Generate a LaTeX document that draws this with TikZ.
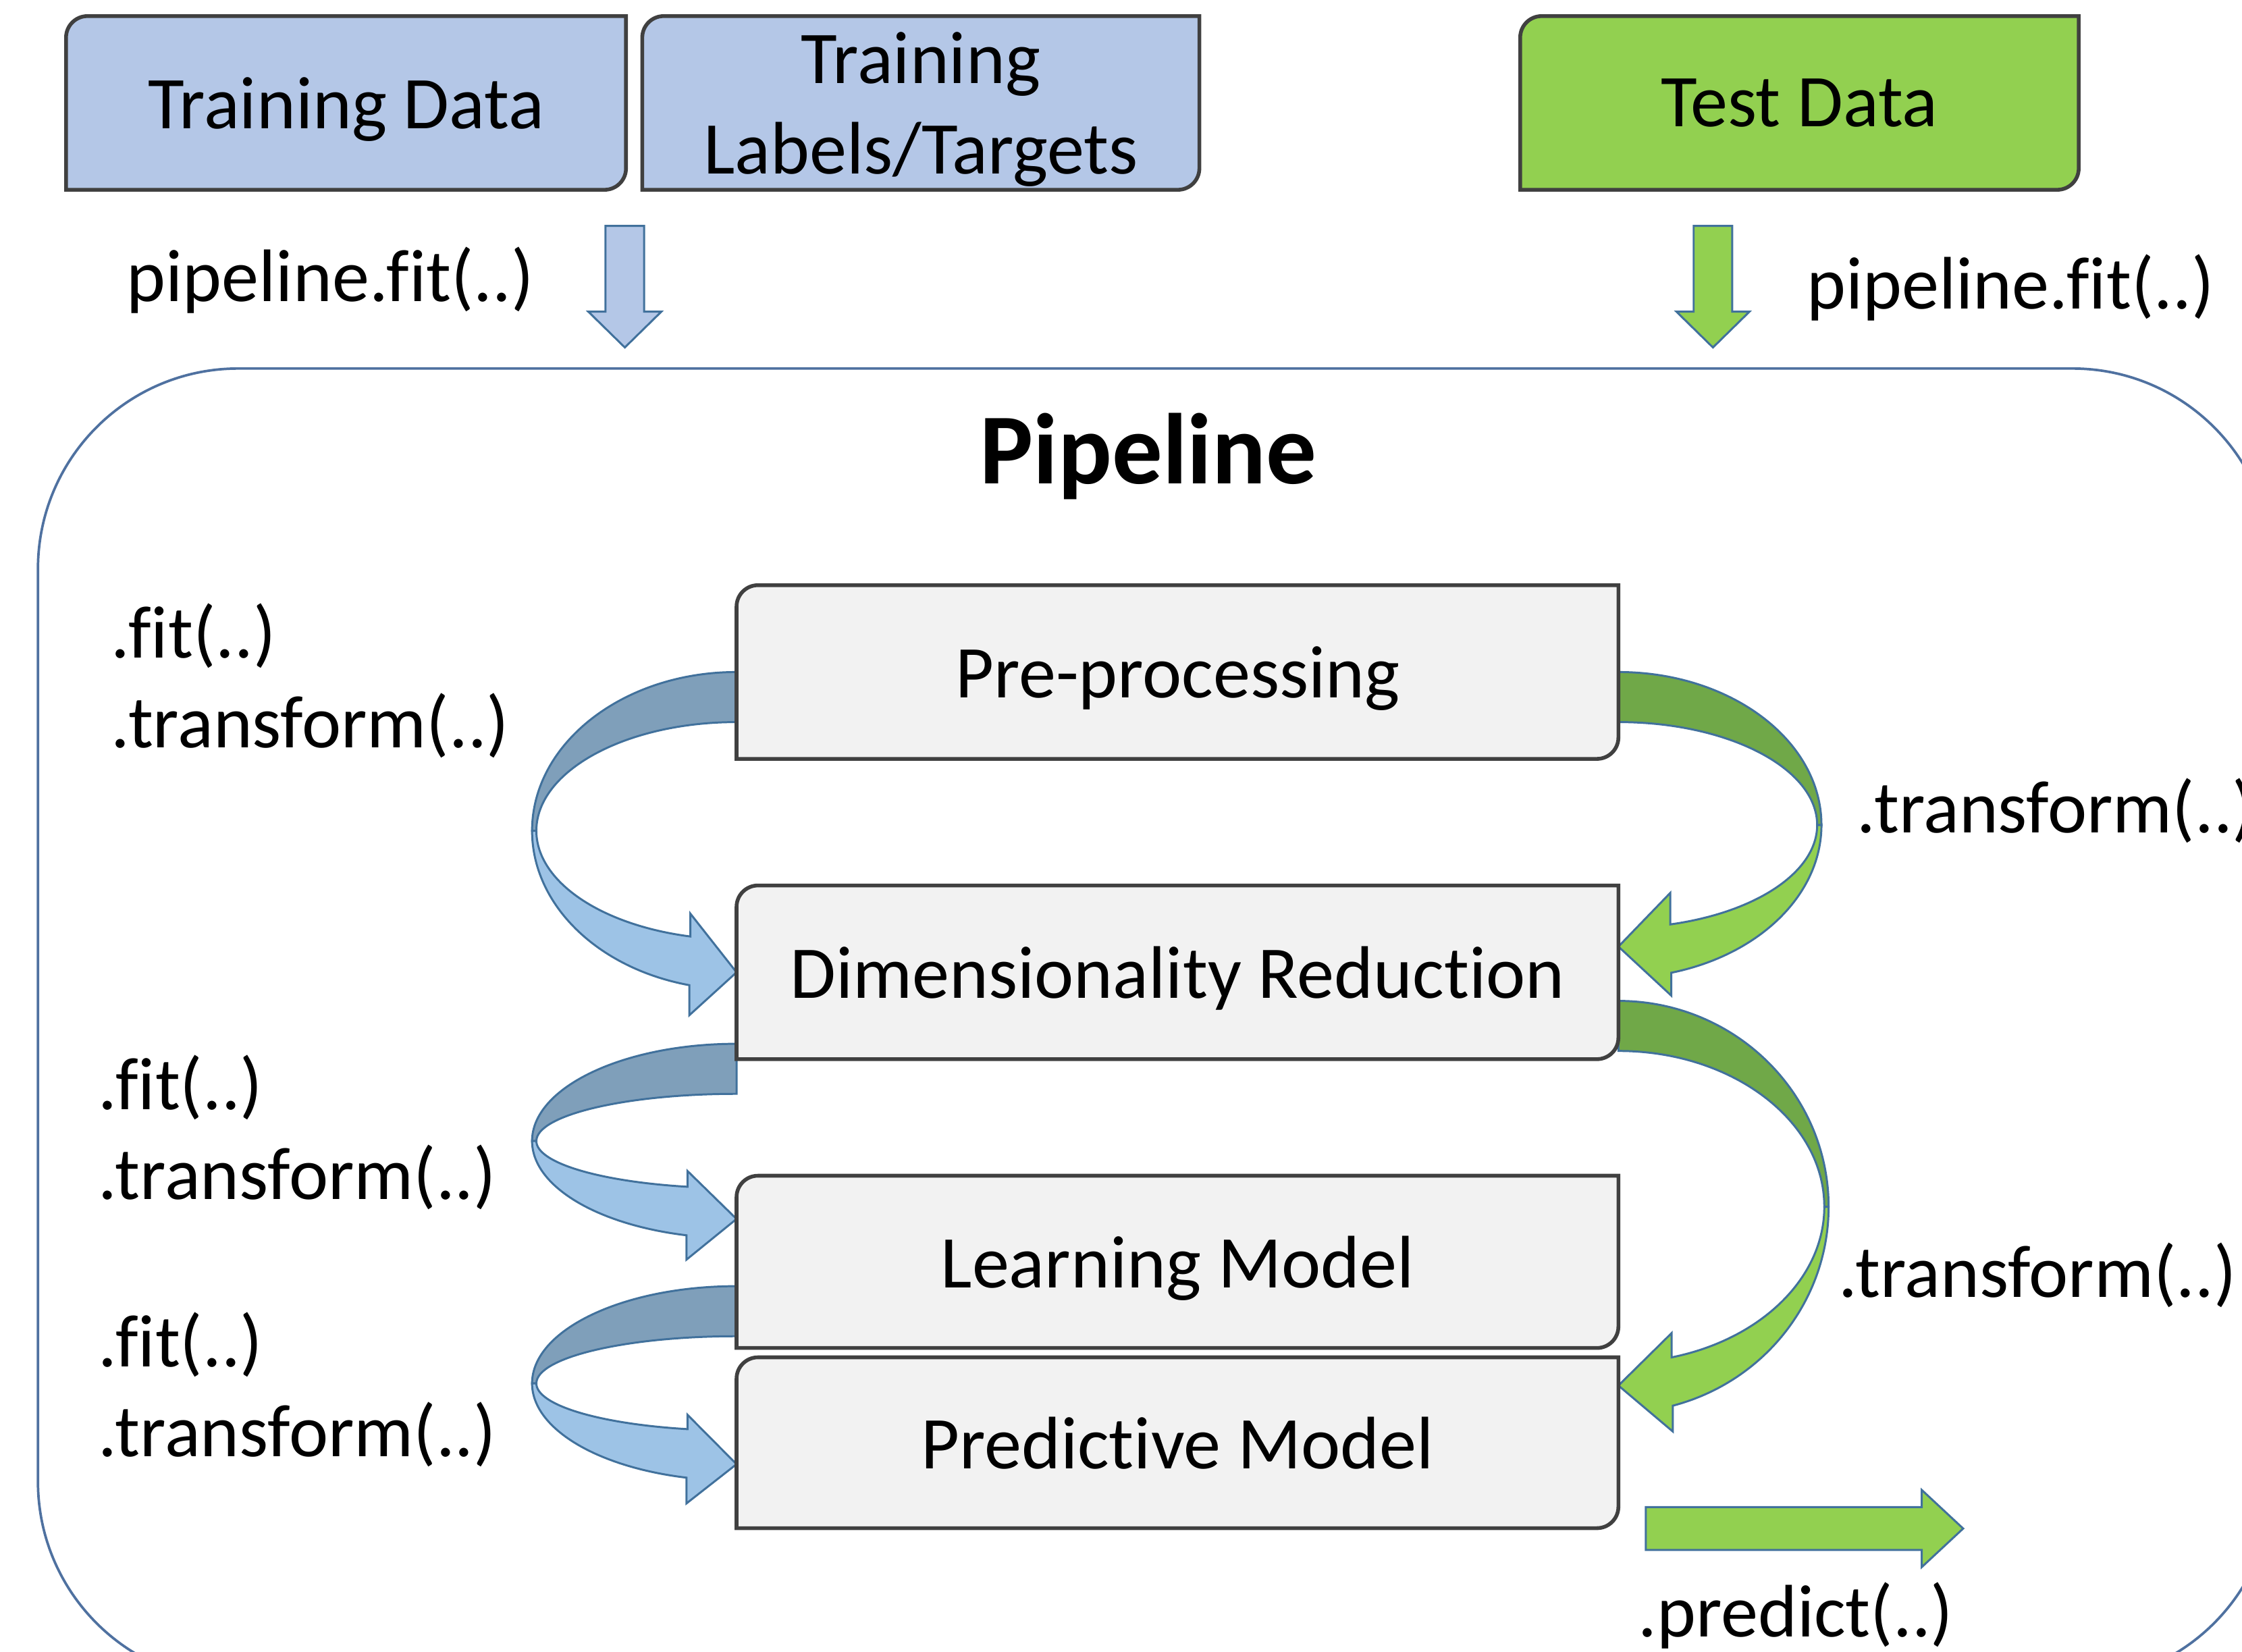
\documentclass[tikz,border=0pt]{standalone}
\usepackage{fontspec}
\setmainfont{Carlito}[Ligatures=NoCommon]
\usepackage{color}
\usepackage{tikz}
\usetikzlibrary{calc,positioning,backgrounds}

\definecolor{boxblue}{HTML}{B4C7E7}
\definecolor{boxgreen}{HTML}{92D050}
\definecolor{boxgray}{HTML}{F2F2F2}
\definecolor{boxline}{HTML}{404040}
\definecolor{pipeblue}{HTML}{4F71A0}
\definecolor{arrowline}{HTML}{41719C}
\definecolor{bluedark}{HTML}{7F9FBA}
\definecolor{bluelite}{HTML}{9DC3E6}
\definecolor{greendark}{HTML}{70A848}
\definecolor{greenlite}{HTML}{92D050}

\begin{document}
\begin{tikzpicture}[x=0.01cm, y=0.01cm]
    \tikzstyle{lbl}=[font=\fontsize{14.8}{17.9}\selectfont, inner sep=0pt]
    \tikzstyle{databox}=[lbl, minimum width=3.9cm, minimum height=1.2cm, align=center, text depth=0pt]
    \tikzstyle{stepbox}=[lbl, minimum width=6.15cm, minimum height=1.2cm, text depth=0pt]
    \tikzstyle{boxedge}=[draw=boxline, line width=0.75pt]
    \tikzstyle{arrowedge}=[draw=arrowline, line width=0.4pt]
    \useasboundingbox (0,0) rectangle (1568,-1155);
    \clip (0,0) rectangle (1568,-1155);

    \node[draw=pipeblue, line width=0.5pt, rounded corners=1.4cm, minimum width=15.62cm, minimum height=9.18cm] (pipe) at (808,-717) {};
    \node[font=\bfseries\fontsize{20}{24}\selectfont] (title) at (803,-319) {Pipeline};

    \node[databox] (td) at (242,-72) {Training Data};
    \node[databox, minimum width=3.88cm] (tl) at (644,-72) {Training\\Labels/Targets};
    \node[databox, minimum width=3.89cm] (te) at (1258.5,-72) {Test Data};

    \node[stepbox] (pre) at (823.5,-470) {Pre-processing};
    \node[stepbox] (dim) at (823.5,-680) {Dimensionality Reduction};
    \node[stepbox, minimum height=1.19cm] (lrn) at (823.5,-882.5) {Learning Model};
    \node[stepbox, minimum height=1.18cm] (prd) at (823.5,-1009) {Predictive Model};

    \node[lbl, anchor=west] (fitL) at (88,-196) {pipeline.fit(..)};
    \node[lbl, anchor=west] (fitR) at (1263,-201) {pipeline.fit(..)};
    \node[lbl, anchor=west, align=left] (ft1) at (77,-476) {.fit(..)\\.transform(..)};
    \node[lbl, anchor=west, align=left] (ft2) at (68,-792) {.fit(..)\\.transform(..)};
    \node[lbl, anchor=west, align=left] (ft3) at (68,-972) {.fit(..)\\.transform(..)};
    \node[lbl, anchor=west] (tr1) at (1298,-567) {.transform(..)};
    \node[lbl, anchor=west] (tr2) at (1285,-892) {.transform(..)};
    \node[lbl, anchor=west] (pred) at (1145,-1130) {.predict(..)};

    \foreach \x/\col in {437/boxblue, 1198/boxgreen}
        \filldraw[fill=\col, arrowedge] (\x-13.5,-158) -- (\x+13.5,-158) -- (\x+13.5,-218) -- (\x+25.5,-218)
            -- (\x,-243) -- (\x-25.5,-218) -- (\x-13.5,-218) -- cycle;
    \filldraw[fill=boxgreen, arrowedge] (1151,-1054) -- (1344,-1054) -- (1344,-1042) -- (1373,-1069)
        -- (1344,-1096) -- (1344,-1084) -- (1151,-1084) -- cycle;

    \begin{scope}[on background layer]
    \foreach \src/\dst/\side/\dir/\dk/\lite/\dy/\tip/\cy/\rr/\hx/\ho/\hi in {
        pre/dim/west/1/bluedark/bluelite/0/0/111/143/33/21/16,
        dim/lrn/west/1/bluedark/bluelite/-50/30/68/143/35/17/11,
        lrn/prd/west/1/bluedark/bluelite/-17/-15/68/143/35/18/10,
        pre/dim/east/-1/greendark/greenlite/0/18/107/142/37/16/22,
        dim/prd/east/-1/greendark/greenlite/-20/40/144/147/38/18/17} {
        \pgfmathsetmacro\ang{270-asin(\hx/\rr)}
        \pgfmathsetmacro\ix{(\rr-3)*cos(\ang)}
        \pgfmathsetmacro\iy{-\cy+(\cy-35)*sin(\ang)}
        \pgfmathsetmacro\iyh{\iy+\hi}
        \coordinate (tip) at ([yshift=\tip*0.01cm]\dst.\side);
        \begin{scope}[shift={([yshift=\dy*0.01cm]\src.\side)}, xscale=\dir]
            \filldraw[fill=\dk, arrowedge] (0,0) arc[start angle=90, end angle=180, x radius=\rr, y radius=\cy]
                -- ++(3,0) arc[start angle=180, end angle=90, x radius={\rr-3}, y radius={\cy-35}] -- cycle;
            \filldraw[fill=\lite, arrowedge] (-\rr,-\cy) arc[start angle=180, end angle=\ang, x radius=\rr, y radius=\cy]
                -- ++(0,-\ho) -- (tip) -- (\ix,\iyh) -- (\ix,\iy)
                arc[start angle=\ang, end angle=180, x radius={\rr-3}, y radius={\cy-35}] -- cycle;
        \end{scope}
    }
    \foreach \bx/\fl in {td/boxblue, tl/boxblue, te/boxgreen, pre/boxgray, dim/boxgray, lrn/boxgray, prd/boxgray}
        \filldraw[fill=\fl, boxedge] ([yshift=-0.15cm]\bx.north west) arc[start angle=180, end angle=90, radius=0.15cm]
            -- (\bx.north east) -- ([yshift=0.15cm]\bx.south east) arc[start angle=0, end angle=-90, radius=0.15cm]
            -- (\bx.south west) -- cycle;
    \end{scope}
\end{tikzpicture}
\end{document}
